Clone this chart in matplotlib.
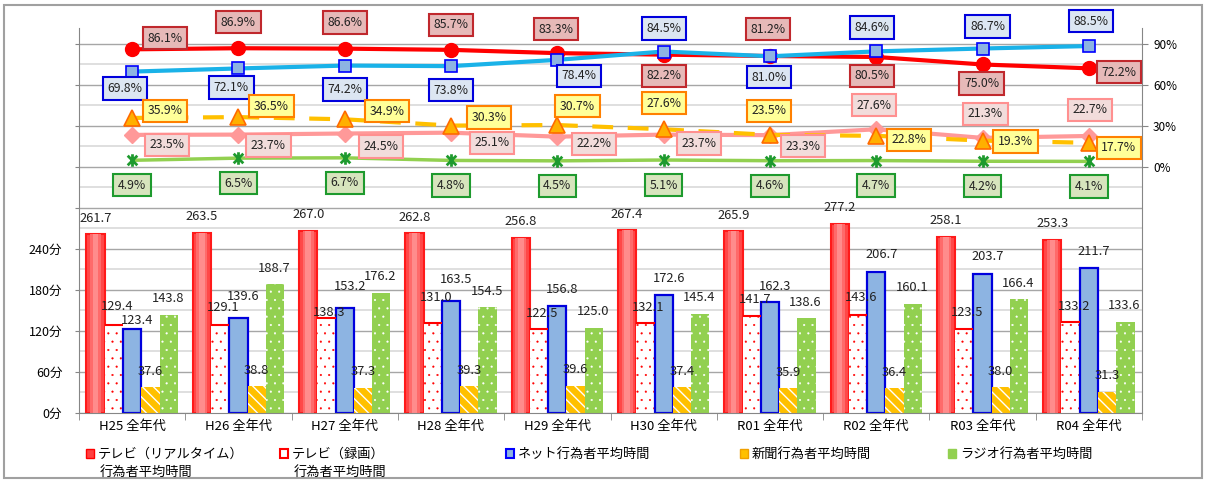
import matplotlib
matplotlib.use('Agg')
import matplotlib.pyplot as plt
import numpy as np
from matplotlib.patches import Patch, Rectangle
from matplotlib.path import Path

plt.rcParams['font.family'] = ['Noto Sans CJK JP', 'DejaVu Sans']

# data
categories = ['H25 全年代', 'H26 全年代', 'H27 全年代', 'H28 全年代', 'H29 全年代',
              'H30 全年代', 'R01 全年代', 'R02 全年代', 'R03 全年代', 'R04 全年代']

# average time of doers (minutes)
tv_real_min = [261.7, 263.5, 267.0, 262.8, 256.8, 267.4, 265.9, 277.2, 258.1, 253.3]
tv_rec_min = [129.4, 129.1, 138.3, 131.0, 122.5, 132.1, 141.7, 143.6, 123.5, 133.2]
net_min = [123.4, 139.6, 153.2, 163.5, 156.8, 172.6, 162.3, 206.7, 203.7, 211.7]
paper_min = [37.6, 38.8, 37.3, 39.3, 39.6, 37.4, 35.9, 36.4, 38.0, 31.3]
radio_min = [143.8, 188.7, 176.2, 154.5, 125.0, 145.4, 138.6, 160.1, 166.4, 133.6]

# doer rate (%)
tv_real_pct = [86.1, 86.9, 86.6, 85.7, 83.3, 82.2, 81.2, 80.5, 75.0, 72.2]
net_pct = [69.8, 72.1, 74.2, 73.8, 78.4, 84.5, 81.0, 84.6, 86.7, 88.5]
paper_pct = [35.9, 36.5, 34.9, 30.3, 30.7, 27.6, 23.5, 22.8, 19.3, 17.7]
tv_rec_pct = [23.5, 23.7, 24.5, 25.1, 22.2, 23.7, 23.3, 27.6, 21.3, 22.7]
radio_pct = [4.9, 6.5, 6.7, 4.8, 4.5, 5.1, 4.6, 4.7, 4.2, 4.1]

legend_first = ['テレビ（リアルタイム）', 'テレビ（録画）', 'ネット行為者平均時間',
                '新聞行為者平均時間', 'ラジオ行為者平均時間']
legend_second = ['行為者平均時間', '行為者平均時間', '', '', '']

# label offsets in pixels (dx, dy)
red_off = [(33, 11), (0, 26), (0, 26), (0, 25), (-1, 24), (0, -21), (-2, 27), (-4, -19), (-1, -19), (30, -4)]
blue_off = [(-7, -17), (-7, -19), (0, -24), (0, -24), (22, -16), (0, 23), (-1, -21), (-4, 24), (5, 22), (2, 25)]
paper_off = [(33, 7), (33, 11), (42, 8), (38, 8), (20, 19), (0, 26), (-1, 24), (33, -4), (33, -1), (30, -5)]
rec_off = [(35, -10), (30, -11), (36, -13), (41, -10), (37, -7), (35, -9), (33, -11), (-2, 24), (3, 24), (1, 26)]
radio_off = [(0, -25)] * 10

# bar value label lift in pixels
rec_dy = [18, 17, 6, 26, 16, 15, 17, 17, 16, 15]
net_dy = [8, 21, 22, 22, 16, 17, 16, 17, 17, 17]

W, H = 1207, 482
fig = plt.figure(figsize=(W / 100, H / 100), dpi=100)
ax = fig.add_axes([79 / W, 69 / H, 1063 / W, 385 / H])
x = np.arange(len(categories))
w = 0.172

# bars
ax.bar(x - 2 * w, tv_real_min, w, color='#FF4848', edgecolor='#FF1A1A', lw=1.5, zorder=2)
ax.bar(x - 2 * w, tv_real_min, w * 0.6, color='#FF6A6A', lw=0, zorder=2)
ax.bar(x - 2 * w, tv_real_min, w * 0.3, color='#FF8C8C', lw=0, zorder=2)
rec_bars = ax.bar(x - w, tv_rec_min, w, color='white', edgecolor='#FF0000', hatch='..', lw=0, zorder=2)
ax.hlines(tv_rec_min, x - 1.5 * w, x - 0.5 * w, color='#FF0000', lw=1.5, zorder=3)
ax.bar(x, net_min, w, color='#8DB4E2', edgecolor='#0000DD', lw=1.6, zorder=2)
ax.bar(x + w, paper_min, w, color='#FFC000', edgecolor='white', hatch='\\\\\\', lw=0, zorder=2)
radio_bars = ax.bar(x + 2 * w, radio_min, w, color='#92D050', edgecolor='white', hatch='..', lw=0, zorder=2)
for p in list(rec_bars) + list(radio_bars):
    if hasattr(p, 'set_hatch_linewidth'):
        p.set_hatch_linewidth(0.3)

bar_series = [(tv_real_min, -2, 0, [16] * 10), (tv_rec_min, -1, 3, rec_dy),
              (net_min, 0, 5, net_dy), (paper_min, 1, 0, [16] * 10), (radio_min, 2, -1, [16] * 10)]
for vals, k, dx, dys in bar_series:
    for xi, v, dy in zip(x, vals, dys):
        ax.annotate(f'{v:.1f}', (xi + k * w, v), xytext=(dx, dy), textcoords='offset pixels',
                    ha='center', va='center', fontsize=9.3, color='#222222', zorder=5)

ax.set_xlim(-0.5, len(categories) - 0.5)
ax.set_ylim(0, 563.4)
ax.set_yticks(np.arange(0, 541, 60))
ax.set_yticklabels([f'{v}分' if v <= 240 else '' for v in range(0, 541, 60)])
ax.set_yticks(np.arange(30, 541, 60), minor=True)
ax.grid(which='major', axis='y', color='#A6A6A6', lw=1)
ax.grid(which='minor', axis='y', color='#D9D9D9', lw=1.2)
ax.set_axisbelow(True)
ax.set_xticks(x)
ax.set_xticklabels(categories)
ax.set_xticks(np.arange(-0.5, len(categories), 1), minor=True)
ax.tick_params(axis='x', which='major', length=0, pad=5, labelsize=9.5)
ax.tick_params(axis='x', which='minor', length=5, color='#868686')
ax.tick_params(axis='y', which='major', length=3, color='#868686', pad=9, labelsize=9)
ax.tick_params(axis='y', which='minor', length=0)
for s in ['top', 'right']:
    ax.spines[s].set_visible(False)
for s in ['left', 'bottom']:
    ax.spines[s].set_color('#868686')

# percent lines
ax2 = ax.twinx()
ax2.set_ylim(-180, 101.7)
ax2.set_yticks([0, 30, 60, 90])
ax2.set_yticklabels(['0%', '30%', '60%', '90%'])
ax2.tick_params(axis='y', length=4, color='#868686', pad=4, labelsize=8.5)
for s in ['top', 'left', 'bottom']:
    ax2.spines[s].set_visible(False)
ax2.spines['right'].set_color('#868686')

star = Path([(-1, -1), (1, 1), (-1, 1), (1, -1), (0, -1.3), (0, 1.3)],
            [Path.MOVETO, Path.LINETO] * 3)

ax2.plot(x, radio_pct, color='#92D050', lw=2.5, marker=star, ms=9, mew=2,
         mec='#1E9A2E', zorder=3)
ax2.plot(x, tv_rec_pct, color='#FF9999', lw=3, marker='D', ms=8, mfc='#FF9999',
         mec='#FF9999', zorder=3)
ax2.plot(x, paper_pct, color='#FFC000', lw=3, ls=(0, (5, 3.5)), marker='^', ms=11,
         mfc='#FFB000', mec='#FF6A00', mew=1.2, zorder=3)
ax2.plot(x, tv_real_pct, color='#FF0000', lw=3, marker='o', ms=10, zorder=3)
ax2.plot(x, net_pct, color='#1AB2E8', lw=3, marker='s', ms=9, mfc='#8DB4E2',
         mec='#0000FF', mew=1.2, zorder=3)

line_series = [
    (tv_real_pct, red_off, '#E6B9B8', '#C0282D'),
    (net_pct, blue_off, '#DCE6F2', '#0000DD'),
    (paper_pct, paper_off, '#FFFF99', '#FF8000'),
    (tv_rec_pct, rec_off, '#F2DCDB', '#FF9090'),
    (radio_pct, radio_off, '#D7E4BD', '#1E9A2E'),
]
for vals, offs, fc, ec in line_series:
    for xi, v, (dx, dy) in zip(x, vals, offs):
        ax2.annotate(f'{v:.1f}%', (xi, v), xytext=(dx, dy), textcoords='offset pixels',
                     ha='center', va='center', fontsize=8.8, color='#222222', zorder=6,
                     bbox=dict(boxstyle='square,pad=0.38', fc=fc, ec=ec, lw=1.5))

# legend
handles = [Patch(fc='#FF4040', ec='#FF0000', lw=1),
           Patch(fc='white', ec='#FF0000', lw=1.5),
           Patch(fc='#8DB4E2', ec='#0000FF', lw=1.5),
           Patch(fc='#FFC000', ec='#F0A000', lw=1),
           Patch(fc='#92D050', ec='#92D050', lw=1)]
leg_x = [86, 280, 506, 740, 948]
for h, lab, lab2, lx in zip(handles, legend_first, legend_second, leg_x):
    fig.legend([h], [lab], loc='upper left', bbox_to_anchor=(lx / W, 1 - 448 / H),
               frameon=False, fontsize=9.5, handlelength=0.6, handleheight=0.6,
               handletextpad=0.3, borderpad=0, borderaxespad=0)
    if lab2:
        fig.text((lx + 14) / W, 1 - 472 / H, lab2, fontsize=9.5, ha='left', va='center')

fig.add_artist(Rectangle((4 / W, 4 / H), 1198 / W, 473 / H, transform=fig.transFigure,
                         fill=False, ec='#A0A0A0', lw=1.5))

fig.savefig('out.png', dpi=100)
